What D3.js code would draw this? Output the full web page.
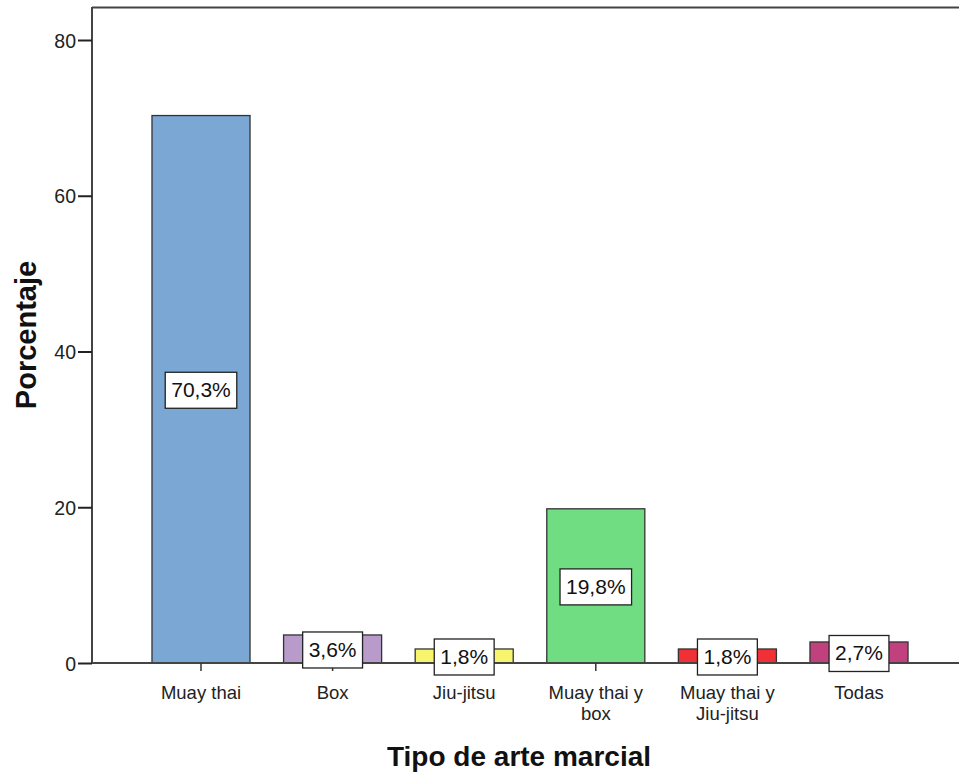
<!DOCTYPE html>
<html>
<head>
<meta charset="utf-8">
<script src="https://cdn.jsdelivr.net/npm/d3@7"></script>
<style>
  body { margin: 0; background: #fff; }
  svg { display: block; font-family: "Liberation Sans", Arial, sans-serif; }
</style>
</head>
<body>
<svg id="chart" width="959" height="773"></svg>
<script>
// Tipo de arte marcial practicada (porcentaje)
const categories = ["Muay thai", "Box", "Jiu-jitsu", "Muay thai y box", "Muay thai y Jiu-jitsu", "Todas"];
const categoryLines = [["Muay thai"], ["Box"], ["Jiu-jitsu"], ["Muay thai y", "box"], ["Muay thai y", "Jiu-jitsu"], ["Todas"]];
const percentages = [70.3, 3.6, 1.8, 19.8, 1.8, 2.7];
const valueLabels = ["70,3%", "3,6%", "1,8%", "19,8%", "1,8%", "2,7%"];
const barColors = ["#7ba7d4", "#b89bcb", "#f7f46e", "#70dd82", "#ef3034", "#c0417e"];
const yTicks = [0, 20, 40, 60, 80];

const svg = d3.select("#chart");
const frame = { left: 92, top: 7, right: 959, bottom: 663 };

const y = d3.scaleLinear().domain([0, 80]).range([frame.bottom, 40]);
const pad = 0.255;
const x = d3.scaleBand().domain(categories)
  .range([135.2, 924.8]).paddingInner(pad).paddingOuter(pad / 2);

const axisColor = "#444";

// plot frame: top edge
svg.append("line").attr("x1", frame.left).attr("x2", frame.right)
  .attr("y1", frame.top + 0.5).attr("y2", frame.top + 0.5)
  .attr("stroke", axisColor).attr("stroke-width", 2);

// bars
svg.selectAll("rect.bar").data(percentages).join("rect")
  .attr("class", "bar")
  .attr("x", (d, i) => x(categories[i]))
  .attr("width", x.bandwidth())
  .attr("y", d => y(d))
  .attr("height", d => y(0) - y(d))
  .attr("fill", (d, i) => barColors[i])
  .attr("stroke", "#333").attr("stroke-width", 1.3);

// y axis
const yAxis = d3.axisLeft(y).tickValues(yTicks).tickSize(14).tickPadding(2);
const yg = svg.append("g").attr("transform", `translate(${frame.left},0)`).call(yAxis);
yg.select(".domain").attr("d", `M0,${frame.top}V${frame.bottom}`).attr("stroke", axisColor).attr("stroke-width", 2);
yg.selectAll(".tick line").attr("stroke", "#222").attr("stroke-width", 2);
yg.selectAll(".tick text").attr("font-size", 19.5).attr("fill", "#222").attr("dy", "0.36em")
  .attr("font-family", "Liberation Sans, Arial, sans-serif");

// x axis (baseline with ticks)
const xAxis = d3.axisBottom(x).tickSize(8).tickFormat("");
const xg = svg.append("g").attr("transform", `translate(0,${frame.bottom})`).call(xAxis);
xg.select(".domain").attr("d", `M${frame.left},0H${frame.right}`).attr("stroke", axisColor).attr("stroke-width", 2);
xg.selectAll(".tick line").attr("stroke", "#333").attr("stroke-width", 1.5);

// category labels, one text per line
const catG = svg.append("g");
categories.forEach((c, i) => {
  const cx = x(c) + x.bandwidth() / 2;
  categoryLines[i].forEach((ln, j) => {
    catG.append("text")
      .attr("x", cx).attr("y", 699 + j * 20.5)
      .attr("text-anchor", "middle")
      .attr("font-size", 18.5).attr("fill", "#222")
      .text(ln);
  });
});

// value labels in boxes at bar mid-height
const lblG = svg.selectAll("g.vlabel").data(percentages).join("g").attr("class", "vlabel");
lblG.each(function (d, i) {
  const g = d3.select(this);
  const cx = x(categories[i]) + x.bandwidth() / 2;
  const cy = (y(d) + y(0)) / 2;
  const txt = g.append("text").attr("x", cx).attr("y", cy + 8)
    .attr("text-anchor", "middle").attr("font-size", 21).attr("fill", "#111")
    .text(valueLabels[i]);
  const w = txt.node().getComputedTextLength() + 12;
  g.insert("rect", "text")
    .attr("x", cx - w / 2).attr("y", cy - 17).attr("width", w).attr("height", 36)
    .attr("fill", "#fff").attr("stroke", "#222").attr("stroke-width", 1.3);
});

// axis titles
svg.append("text")
  .attr("transform", `translate(36,335) rotate(-90)`)
  .attr("text-anchor", "middle").attr("font-size", 29).attr("font-weight", "bold").attr("fill", "#111")
  .text("Porcentaje");
svg.append("text")
  .attr("x", 519).attr("y", 766)
  .attr("text-anchor", "middle").attr("font-size", 28).attr("font-weight", "bold").attr("fill", "#111")
  .text("Tipo de arte marcial");
</script>
</body>
</html>
